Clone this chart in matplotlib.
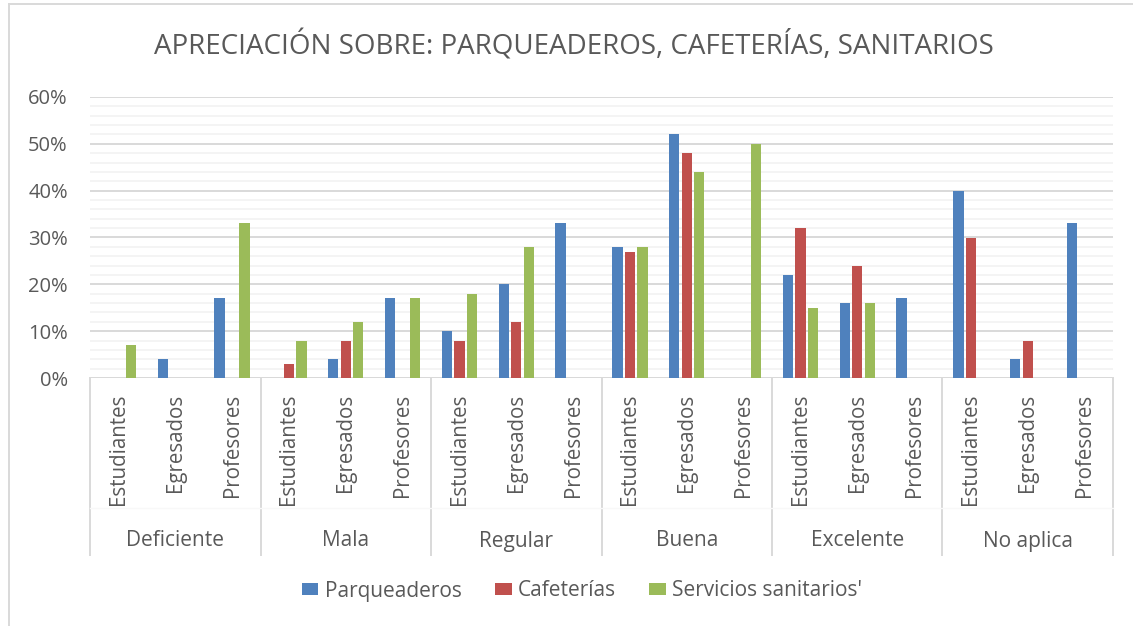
import numpy as np
import matplotlib.pyplot as plt
from matplotlib.lines import Line2D
from matplotlib.ticker import MultipleLocator, PercentFormatter

plt.rcParams['font.family'] = ['Open Sans', 'DejaVu Sans']

# datos
grupos = ["Deficiente", "Mala", "Regular", "Buena", "Excelente", "No aplica"]
subgrupos = ["Estudiantes", "Egresados", "Profesores"]
series = ["Parqueaderos", "Cafeterías", "Servicios sanitarios'"]
colores = ["#4F81BD", "#C0504D", "#9BBB59"]

parqueaderos = [0, 4, 17,  0, 4, 17,  10, 20, 33,  28, 52, 0,  22, 16, 17,  40, 4, 33]
cafeterias = [0, 0, 0,  3, 8, 0,  8, 12, 0,  27, 48, 0,  32, 24, 0,  30, 8, 0]
sanitarios = [7, 0, 33,  8, 12, 17,  18, 28, 0,  28, 44, 50,  15, 16, 0,  0, 0, 0]

valores = [parqueaderos, cafeterias, sanitarios]

gris_texto = "#595959"
gris_linea = "#D9D9D9"

fig = plt.figure(figsize=(11.33, 6.26), dpi=100)
W, H = 1133, 626
x0, x1, ytop, ybot = 90, 1113, 97, 378
ax = fig.add_axes([x0 / W, 1 - ybot / H, (x1 - x0) / W, (ybot - ytop) / H])

n = len(grupos) * len(subgrupos)
x = np.arange(n)
paso = 0.22
for i, (nombre, vals, col) in enumerate(zip(series, valores, colores)):
    v = np.array(vals) / 100
    ax.bar(x + (i - 1) * paso, v, width=0.18, color=col, linewidth=0,
           label=nombre, zorder=3)

ax.set_xlim(-0.5, n - 0.5)
ax.set_ylim(0, 0.6)
ax.yaxis.set_major_locator(MultipleLocator(0.1))
ax.yaxis.set_minor_locator(MultipleLocator(0.02))
ax.yaxis.set_major_formatter(PercentFormatter(1.0, decimals=0))
ax.grid(True, which="major", axis="y", color=gris_linea, linewidth=1.4, zorder=1)
ax.grid(True, which="minor", axis="y", color="#F2F2F2", linewidth=1.2, zorder=0)
ax.tick_params(axis="y", which="both", length=0, pad=16, labelsize=14.5,
               labelcolor=gris_texto)
ax.tick_params(axis="x", length=0, labelbottom=False)
for s in ax.spines.values():
    s.set_visible(False)
ax.axhline(0, color=gris_linea, linewidth=1.4, zorder=2)

# eje de categorías en dos niveles
alto = ybot - ytop
tr = ax.get_xaxis_transform()
fondo = -(555 - ybot) / alto
for k in range(len(grupos) + 1):
    ax.plot([k * 3 - 0.5] * 2, [0, fondo], transform=tr, color=gris_linea,
            linewidth=1.4, clip_on=False)
ax.plot([-0.5, n - 0.5], [-(508 - ybot) / alto] * 2, transform=tr,
        color="#F8F8F8", linewidth=1, clip_on=False)
for j in range(n):
    ax.text(j, -(394 - ybot) / alto, subgrupos[j % 3], transform=tr,
            rotation=90, ha="center", va="top", fontsize=14.8, color=gris_texto)
for g, nombre in enumerate(grupos):
    ax.text(g * 3 + 1, -(541 - ybot) / alto, nombre, transform=tr,
            ha="center", va="center", fontsize=15, color=gris_texto)

fig.text(574 / W, 1 - 46 / H, "APRECIACIÓN SOBRE: PARQUEADEROS, CAFETERÍAS, SANITARIOS",
         ha="center", va="center", fontsize=20, color=gris_texto)

fig.legend(loc="center", bbox_to_anchor=(582 / W, 1 - 591 / H), ncol=3,
           frameon=False, fontsize=15, handlelength=0.8, handleheight=0.55,
           handletextpad=0.3, columnspacing=1.6, labelcolor=gris_texto)

# borde del área del gráfico
fig.add_artist(Line2D([8.5 / W, 8.5 / W], [0, 1 - 4 / H], color=gris_linea, linewidth=1.4))
fig.add_artist(Line2D([8.5 / W, 1], [1 - 4 / H, 1 - 4 / H], color=gris_linea, linewidth=1.4))

fig.savefig("out.png", dpi=100)
